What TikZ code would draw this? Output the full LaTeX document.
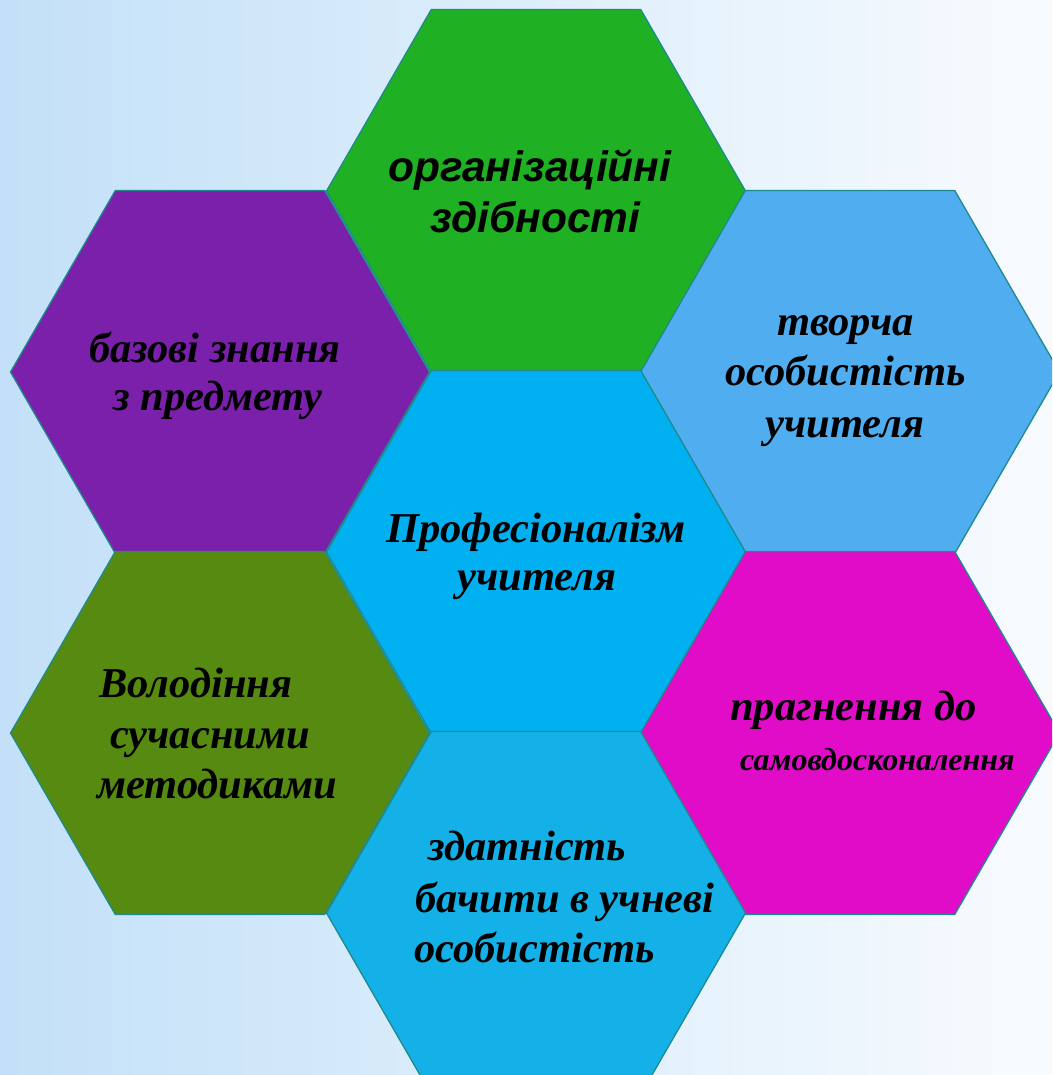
\documentclass[tikz,border=0pt]{standalone}
\usepackage{fontspec}
\setmainfont{Liberation Serif}
\newfontfamily\arialfont{Liberation Sans}
\usetikzlibrary{shapes.geometric}
\definecolor{bgL}{HTML}{C3E0F8}
\definecolor{bgM}{HTML}{DDEEFB}
\definecolor{bgR}{HTML}{F8FBFE}
\definecolor{hexline}{HTML}{1E8A8C}
\definecolor{cGreen}{HTML}{20B023}
\definecolor{cPurple}{HTML}{7B20AB}
\definecolor{cSky}{HTML}{50ADF0}
\definecolor{cCenter}{HTML}{00B0F0}
\definecolor{cOlive}{HTML}{568A10}
\definecolor{cMagenta}{HTML}{E00CC8}
\definecolor{cBottom}{HTML}{13B1E8}
\begin{document}
\begin{tikzpicture}[x=1pt,y=-1pt,
  hexa/.style={regular polygon, regular polygon sides=6, minimum size=419pt,
    inner sep=0pt, outer sep=0pt, draw=hexline, line width=1.3pt},
  lbl/.style={anchor=base west, inner sep=0pt, text=black,
    font=\fontsize{42.5}{50}\selectfont\bfseries\itshape},
  slbl/.style={lbl, font=\fontsize{32}{38}\selectfont\bfseries\itshape},
  albl/.style={lbl, font=\arialfont\fontsize{42.5}{50}\selectfont\bfseries\itshape}]
\useasboundingbox (0,0) rectangle (1052,1075);
\clip (0,0) rectangle (1052,1075);
\shade[left color=bgL, right color=bgR, middle color=bgM] (0,0) rectangle (1052,1075);
% hexagons
\node[hexa, fill=cGreen]   (hg) at (536,191) {};
\node[hexa, fill=cPurple]  (hp) at (220,372) {};
\node[hexa, fill=cSky]     (hs) at (850,372) {};
\node[hexa, fill=cCenter]  (hc) at (536,552) {};
\node[hexa, fill=cOlive]   (ho) at (220,733) {};
\node[hexa, fill=cMagenta] (hm) at (850,733) {};
\node[hexa, fill=cBottom]  (hb) at (536,913) {};
% texts
\node[albl] (g1) at (388,182) {організаційні};
\node[albl] (g2) at (430,233) {здібності};
\node[lbl] (p1) at (89,362) {базові знання};
\node[lbl] (p2) at (113,410) {з предмету};
\node[lbl] (s1) at (777,335) {творча};
\node[lbl] (s2) at (725,385) {особистість};
\node[lbl] (s3) at (765,437) {учителя};
\node[lbl] (c1) at (386,542) {Професіоналізм};
\node[lbl] (c2) at (457,590) {учителя};
\node[lbl] (o1) at (99,697) {Володіння};
\node[lbl] (o2) at (110,748) {сучасними};
\node[lbl] (o3) at (97,798) {методиками};
\node[lbl] (m1) at (730,720) {прагнення до};
\node[slbl] (m2) at (740,770) {самовдосконалення};
\node[lbl] (b1) at (428,860) {здатність};
\node[lbl] (b2) at (415,912) {бачити в учневі};
\node[lbl] (b3) at (414,962) {особистість};
\end{tikzpicture}
\end{document}
